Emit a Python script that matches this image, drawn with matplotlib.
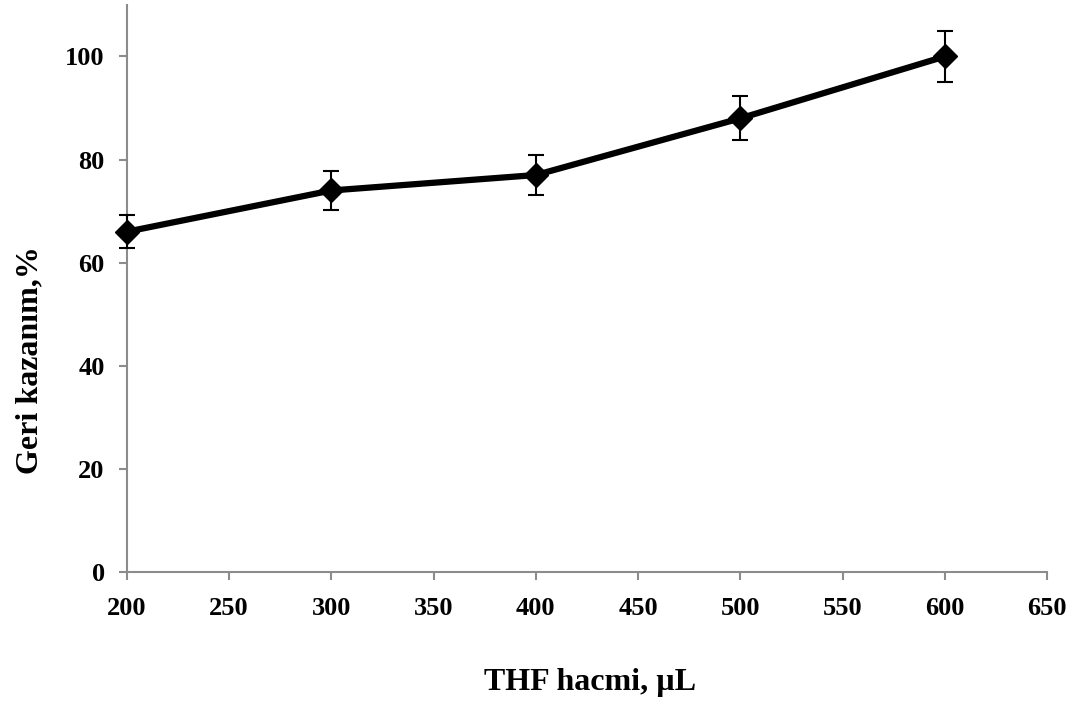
import numpy as np
import matplotlib.pyplot as plt

# THF volume (uL) vs recovery (%)
thf_volume = [200, 300, 400, 500, 600]
recovery = [66.0, 74.0, 77.0, 88.0, 100.0]
recovery_err = [3.2, 3.7, 3.9, 4.3, 5.0]

x_ticks = [200, 250, 300, 350, 400, 450, 500, 550, 600, 650]
y_ticks = [0, 20, 40, 60, 80, 100]

plt.rcParams['font.family'] = ['Liberation Serif', 'DejaVu Serif']
plt.rcParams['font.weight'] = 'bold'

fig = plt.figure(figsize=(10.75, 7.06), dpi=100)
ax = fig.add_axes([0.118, 0.19, 0.856, 0.803])

line = ax.errorbar(thf_volume, recovery, yerr=recovery_err, color='black',
                   linewidth=4.5, marker='D', markersize=12, ecolor='black',
                   elinewidth=1.5, capsize=6, capthick=1.5, zorder=3)
# keep the first diamond whole where it sits on the y axis
for artist in line.get_children():
    artist.set_clip_on(False)

ax.set_xlim(200, 650)
ax.set_ylim(0, 110)
ax.set_xticks(x_ticks)
ax.set_yticks(y_ticks)

axis_gray = '#8c8c8c'
for side in ['top', 'right']:
    ax.spines[side].set_visible(False)
for side in ['left', 'bottom']:
    ax.spines[side].set_color(axis_gray)
    ax.spines[side].set_linewidth(1.5)
ax.tick_params(axis='both', direction='out', length=6, width=1.5,
               color=axis_gray, labelsize=19)
ax.tick_params(axis='x', pad=12)
ax.tick_params(axis='y', pad=10)

for lbl in ax.get_xticklabels() + ax.get_yticklabels():
    lbl.set_fontweight('bold')

ax.set_xlabel('THF hacmi, µL', fontsize=23, fontweight='bold')
ax.set_ylabel('Geri kazanım,%', fontsize=23, fontweight='bold')
ax.xaxis.set_label_coords(0.503, -0.196)
ax.yaxis.set_label_coords(-0.105, 0.374)
ax.xaxis.label.set_va('center')
ax.yaxis.label.set_va('center')

fig.savefig('out.png', dpi=100)
